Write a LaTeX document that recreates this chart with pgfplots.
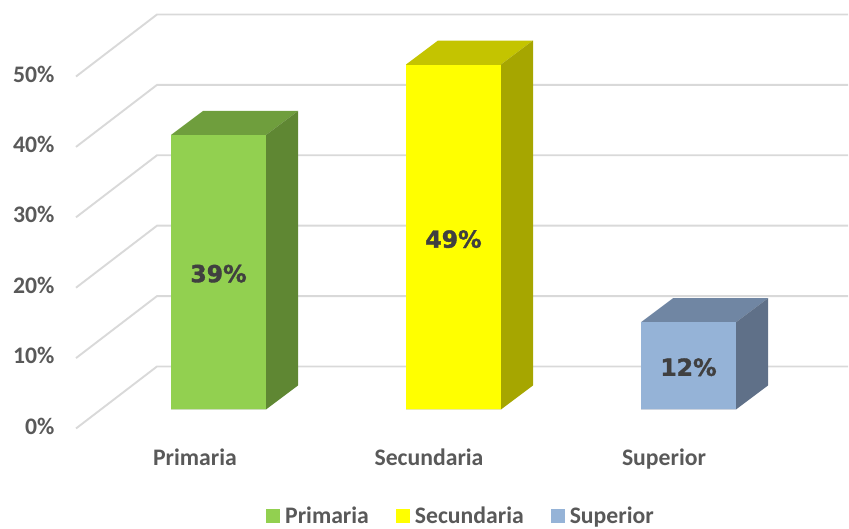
\documentclass[border=0pt]{standalone}
\usepackage{fontspec}
\setmainfont{Carlito}
\newfontfamily\labelfont[BoldFeatures={FakeBold=1.6}]{DejaVu Sans}
\usepackage{pgfplots}
\pgfplotsset{compat=1.18}
\definecolor{tickgray}{HTML}{595959}
\definecolor{gridgray}{HTML}{D9D9D9}
\definecolor{gfront}{HTML}{92D050}
\definecolor{gtop}{HTML}{6F9E3D}
\definecolor{gside}{HTML}{5F8733}
\definecolor{yfront}{HTML}{FFFF00}
\definecolor{ytop}{HTML}{C4C400}
\definecolor{yside}{HTML}{A6A600}
\definecolor{bfront}{HTML}{95B3D7}
\definecolor{btop}{HTML}{7086A3}
\definecolor{bside}{HTML}{5F7088}
\begin{document}
\begin{tikzpicture}[x=1pt,y=1pt]
\path[use as bounding box] (0,0) rectangle (849,529);
\begin{axis}[
  at={(76pt,100.5pt)}, anchor=south west,
  scale only axis, width=773pt, height=428pt,
  xmin=76, xmax=849, ymin=-2.7, ymax=58.1,
  clip=false,
  axis line style={draw=none},
  major tick length=0pt,
  tick style={draw=none},
  xtick={195,429,664},
  xticklabels={Primaria,Secundaria,Superior},
  ytick={-2.7,7.3,17.3,27.3,37.3,47.3},
  yticklabels={0\%,10\%,20\%,30\%,40\%,50\%},
  tick label style={font=\fontsize{23.7}{25}\selectfont\bfseries, text=tickgray},
  xticklabel style={anchor=base, yshift=-37pt},
  yticklabel style={anchor=east, xshift=-18pt, yshift=2.5pt},
  legend columns=-1,
  legend style={at={(0.498,-0.205)}, anchor=center, draw=none, fill=none,
    inner ysep=0pt, nodes={inner ysep=0pt},
    font=\fontsize{23.7}{25}\selectfont\bfseries, text=tickgray,
    /tikz/every odd column/.append style={column sep=3pt},
    /tikz/every even column/.append style={column sep=25pt}},
]
% gridlines
\addplot[gridgray, line width=1.9pt, forget plot] coordinates {(76,-2.70) (157,6.11) (848,6.11)};
\addplot[gridgray, line width=1.9pt, forget plot] coordinates {(76,7.30) (157,16.11) (848,16.11)};
\addplot[gridgray, line width=1.9pt, forget plot] coordinates {(76,17.30) (157,26.11) (848,26.11)};
\addplot[gridgray, line width=1.9pt, forget plot] coordinates {(76,27.30) (157,36.11) (848,36.11)};
\addplot[gridgray, line width=1.9pt, forget plot] coordinates {(76,37.30) (157,46.11) (848,46.11)};
\addplot[gridgray, line width=1.9pt, forget plot] coordinates {(76,47.30) (157,56.11) (848,56.11)};
% tops and sides
\addplot[fill=gtop, draw=none, forget plot] coordinates {(171,39) (203,42.41) (298,42.41) (266,39)} \closedcycle;
\addplot[fill=gside, draw=none, forget plot] coordinates {(266,0) (298,3.41) (298,42.41) (266,39)} \closedcycle;
\addplot[fill=ytop, draw=none, forget plot] coordinates {(406,49) (438,52.41) (533,52.41) (501,49)} \closedcycle;
\addplot[fill=yside, draw=none, forget plot] coordinates {(501,0) (533,3.41) (533,52.41) (501,49)} \closedcycle;
\addplot[fill=btop, draw=none, forget plot] coordinates {(641,12.4) (673,15.81) (768,15.81) (736,12.4)} \closedcycle;
\addplot[fill=bside, draw=none, forget plot] coordinates {(736,0) (768,3.41) (768,15.81) (736,12.4)} \closedcycle;
% fronts
\addplot[ybar, bar width=95pt, bar shift=0pt, fill=gfront, draw=none, area legend,
  legend image code/.code={\fill[gfront] (0pt,-6.5pt) rectangle (14pt,7.5pt);}] coordinates {(218.5,39)};
\addlegendentry{Primaria}
\addplot[ybar, bar width=95pt, bar shift=0pt, fill=yfront, draw=none, area legend,
  legend image code/.code={\fill[yfront] (0pt,-6.5pt) rectangle (14pt,7.5pt);}] coordinates {(453.5,49)};
\addlegendentry{Secundaria}
\addplot[ybar, bar width=95pt, bar shift=0pt, fill=bfront, draw=none, area legend,
  legend image code/.code={\fill[bfront] (0pt,-6.5pt) rectangle (14pt,7.5pt);}] coordinates {(688.5,12.4)};
\addlegendentry{Superior}
% value labels
\addplot[only marks, mark=none, forget plot, point meta=explicit symbolic,
  nodes near coords,
  every node near coord/.style={anchor=center, inner sep=0pt, text=black!75,
    font=\labelfont\fontsize{23.5}{25}\selectfont\bfseries}]
  coordinates {(218.5,19.3)[39\%] (453.5,24.2)[49\%] (688.5,6.0)[12\%]};
\end{axis}
\end{tikzpicture}
\end{document}
